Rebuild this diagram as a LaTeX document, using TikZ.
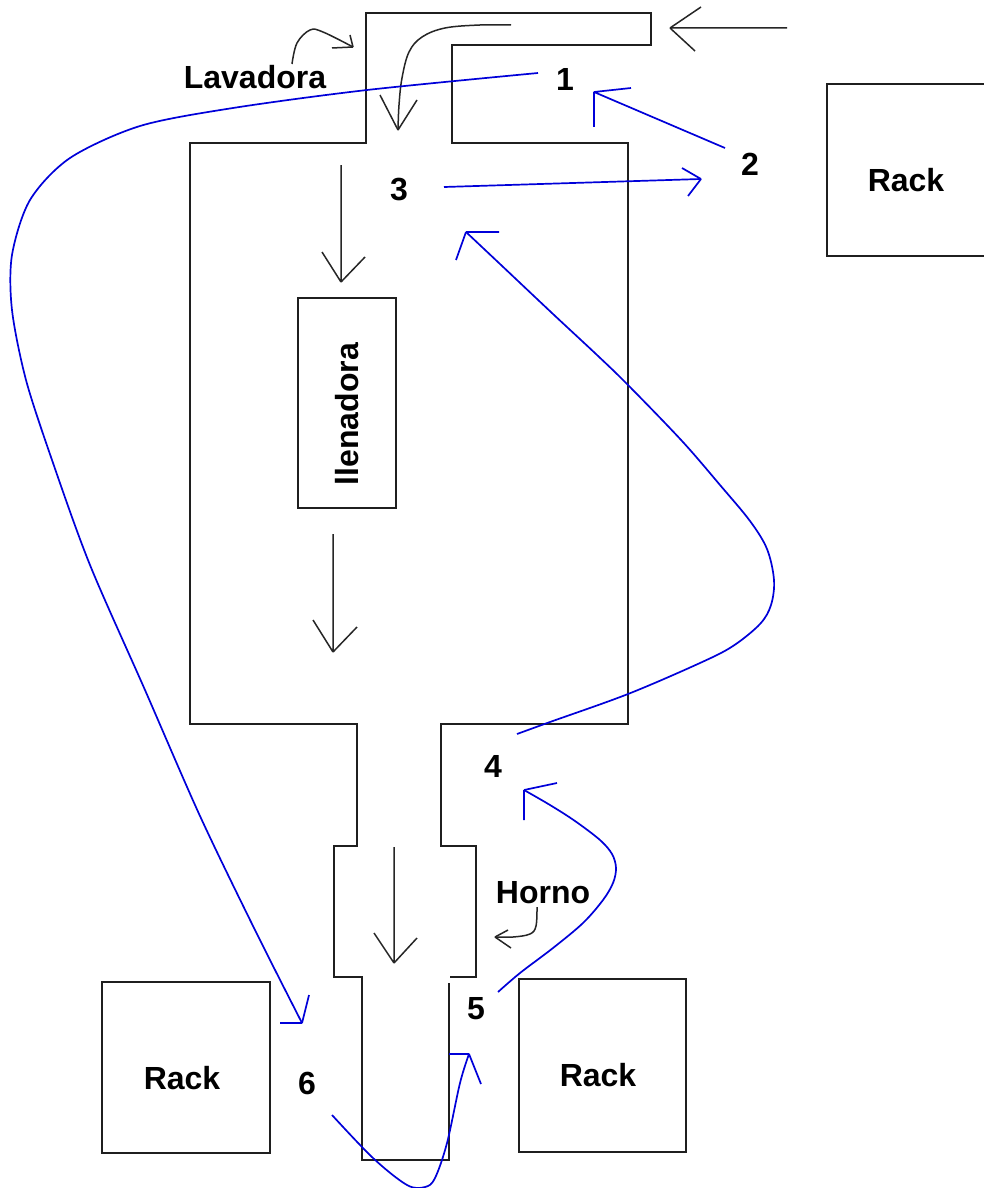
\documentclass[tikz,border=0pt]{standalone}
\usepackage{fontspec}
\setmainfont{Liberation Sans}
\begin{document}
\begin{tikzpicture}[x=0.5pt,y=-0.5pt,
  wall/.style={draw=black!88,line width=1pt,line join=miter},
  flow/.style={draw=black!85,line width=0.75pt},
  route/.style={draw=blue!85!black,line width=0.85pt,line join=round},
  lbl/.style={font=\fontsize{16}{19}\selectfont\bfseries,inner sep=0pt,anchor=center}]
\useasboundingbox[fill=white] (0,0) rectangle (984,1188);

% plant outline: washer channel, filling hall, oven necks
\draw[wall] (450,977) -- (476,977) -- (476,846) -- (441,846) -- (441,724)
  -- (628,724) -- (628,143) -- (452,143) -- (452,45) -- (651,45) -- (651,13)
  -- (366,13) -- (366,143) -- (190,143) -- (190,724) -- (357,724) -- (357,846)
  -- (334,846) -- (334,977) -- (362,977) -- (362,1160) -- (449,1160) -- (449,983);

% filler box
\draw[wall] (298,298) rectangle (396,508);
\node[lbl,rotate=90] (llen) at (347,414) {llenadora};

% racks
\draw[wall] (986,84) -- (827,84) -- (827,256) -- (986,256);
\node[lbl] (rackA) at (906,180) {Rack};
\draw[wall] (102,982) rectangle (270,1153);
\node[lbl] (rackB) at (182,1078) {Rack};
\draw[wall] (519,979) rectangle (686,1152);
\node[lbl] (rackC) at (598,1075) {Rack};

% labels
\node[lbl] (lav) at (255,77) {Lavadora};
\node[lbl] (horno) at (543,893) {Horno};
\node[lbl] (n1) at (565,79) {1};
\node[lbl] (n2) at (750,164) {2};
\node[lbl] (n3) at (399,190) {3};
\node[lbl] (n4) at (493,766) {4};
\node[lbl] (n5) at (476,1009) {5};
\node[lbl] (n6) at (307,1083) {6};

% product flow (black)
\coordinate (inS) at (787,28);
\coordinate (inT) at (670,28);
\draw[flow] (inS) -- (inT) (inT) -- (701,7) (inT) -- (695,51);

\coordinate (chS) at (511,25);
\coordinate (chT) at (398,130);
\draw[flow] plot[smooth,tension=0.6] coordinates {(chS) (480,25) (445,28) (422,37) (409,52) (402,78) (399,105) (chT)};
\draw[flow] (chT) -- (380,95) (chT) -- (417,100);

\coordinate (lvS) at (292,64);
\coordinate (lvT) at (353,47);
\draw[flow] plot[smooth,tension=0.6] coordinates {(lvS) (297,43) (310,30) (323,32) (lvT)};
\draw[flow] (lvT) -- (350,35) (lvT) -- (332,48);

\coordinate (f1S) at (341,165);
\coordinate (f1T) at (341,282);
\draw[flow] (f1S) -- (f1T) (f1T) -- (322,252) (f1T) -- (365,257);

\coordinate (f2S) at (333,534);
\coordinate (f2T) at (333,652);
\draw[flow] (f2S) -- (f2T) (f2T) -- (313,620) (f2T) -- (357,627);

\coordinate (f3S) at (394,847);
\coordinate (f3T) at (394,963);
\draw[flow] (f3S) -- (f3T) (f3T) -- (374,933) (f3T) -- (417,938);

\coordinate (hoS) at (537,907);
\coordinate (hoT) at (495,937);
\draw[flow] plot[smooth,tension=0.6] coordinates {(hoS) (536,926) (530,934) (513,937) (hoT)};
\draw[flow] (hoT) -- (508,930) (hoT) -- (511,948);

% rack routes (blue)
\coordinate (r1S) at (538,73);
\coordinate (r1T) at (302,1023);
\draw[route] plot[smooth,tension=0.5] coordinates {(r1S) (367,90) (233,108) (140,126)
  (70,158) (30,200) (12,255) (12,310) (26,380) (52,460) (90,565) (145,690)
  (200,816) (255,930) (r1T)};
\draw[route] (r1T) -- (280,1023) (r1T) -- (309,995);

\coordinate (r2S) at (725,148);
\coordinate (r2T) at (594,92);
\draw[route] (r2S) -- (r2T) (r2T) -- (631,88) (r2T) -- (594,127);

\coordinate (r3S) at (444,187);
\coordinate (r3T) at (701,179);
\draw[route] (r3S) -- (r3T) (r3T) -- (682,168) (r3T) -- (688,196);

\coordinate (r4S) at (517,734);
\coordinate (r4T) at (466,232);
\draw[route] plot[smooth,tension=0.55] coordinates {(r4S) (550,722) (628,694) (700,663) (733,646)
  (760,624) (771,605) (774,580) (767,549) (750,521) (720,485) (682,441) (628,385)
  (597,355) (553,314) (500,264) (r4T)};
\draw[route] (r4T) -- (499,232) (r4T) -- (456,260);

\coordinate (r5S) at (498,992);
\coordinate (r5T) at (524,790);
\draw[route] plot[smooth,tension=0.55] coordinates {(r5S) (520,973) (553,948) (583,923) (603,900)
  (613,883) (616,868) (612,854) (600,840) (575,821) (550,805) (r5T)};
\draw[route] (r5T) -- (557,783) (r5T) -- (524,820);

\coordinate (r6S) at (332,1115);
\coordinate (r6T) at (469,1054);
\draw[route] plot[smooth,tension=0.55] coordinates {(r6S) (373,1158) (407,1185) (425,1187)
  (435,1178) (447,1143) (460,1083) (r6T)};
\draw[route] (r6T) -- (449,1054) (r6T) -- (481,1084);
\end{tikzpicture}
\end{document}
